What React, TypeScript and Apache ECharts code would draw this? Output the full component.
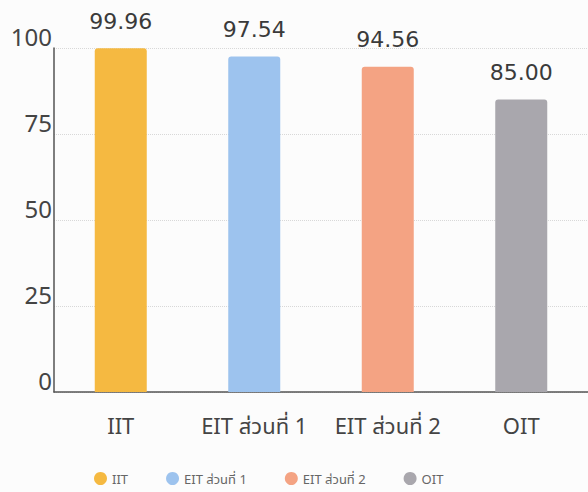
import React, { useEffect, useRef } from "react";
import * as echarts from "echarts";

const categories = ["IIT", "EIT ส่วนที่ 1", "EIT ส่วนที่ 2", "OIT"];
const values = [99.96, 97.54, 94.56, 85.0];
const colors = ["#F5B941", "#9DC3EE", "#F4A383", "#A9A7AD"];
const yTicks = [0, 25, 50, 75, 100];

const FONT = "'Noto Sans', 'Noto Sans Thai', 'Open Sans', sans-serif";
const NUM_FONT = "'DejaVu Sans', 'Noto Sans', sans-serif";

export default function App() {
  const ref = useRef<HTMLDivElement>(null);
  useEffect(() => {
    if (!ref.current) return;
    const chart = echarts.init(ref.current, undefined, { renderer: "svg" });
    const series = categories.map((name, i) => ({
      name,
      type: "bar",
      barWidth: 52,
      barGap: "-100%",
      itemStyle: { color: colors[i], borderRadius: [3, 3, 0, 0] },
      label: {
        show: true,
        position: "top",
        distance: 16,
        fontSize: 22,
        color: "#3a3a3a",
        fontFamily: NUM_FONT,
        formatter: (p: any) => Number(p.value).toFixed(2),
      },
      data: categories.map((_, j) => (j === i ? values[i] : "-")),
    }));
    chart.setOption({
      animation: false,
      backgroundColor: "#fcfcfc",
      textStyle: { fontFamily: FONT },
      grid: { left: 54, right: 0, top: 48, bottom: 100, containLabel: false },
      legend: {
        data: categories,
        left: 89,
        top: 467,
        icon: "circle",
        itemWidth: 13,
        itemHeight: 13,
        itemGap: 38,
        textStyle: { fontSize: 13, color: "#666", fontFamily: FONT },
      },
      xAxis: {
        type: "category",
        data: categories,
        axisLine: { lineStyle: { color: "#555", width: 1.5 } },
        axisTick: { show: false },
        axisLabel: {
          interval: 0,
          fontSize: 22,
          color: "#444",
          margin: 22,
          fontFamily: FONT,
        },
      },
      yAxis: {
        type: "value",
        min: yTicks[0],
        max: yTicks[yTicks.length - 1],
        interval: 25,
        axisLine: { show: true, lineStyle: { color: "#555", width: 1.5 } },
        axisTick: { show: false },
        axisLabel: {
          fontSize: 24,
          color: "#444",
          margin: 2,
          verticalAlign: "bottom",
          fontFamily: FONT,
        },
        splitLine: { lineStyle: { color: "#d8d8d8", type: "dotted", width: 1 } },
      },
      series,
    });
    return () => chart.dispose();
  }, []);
  return <div ref={ref} style={{ width: 588, height: 492, position: "fixed", left: 0, top: 0 }} />;
}
